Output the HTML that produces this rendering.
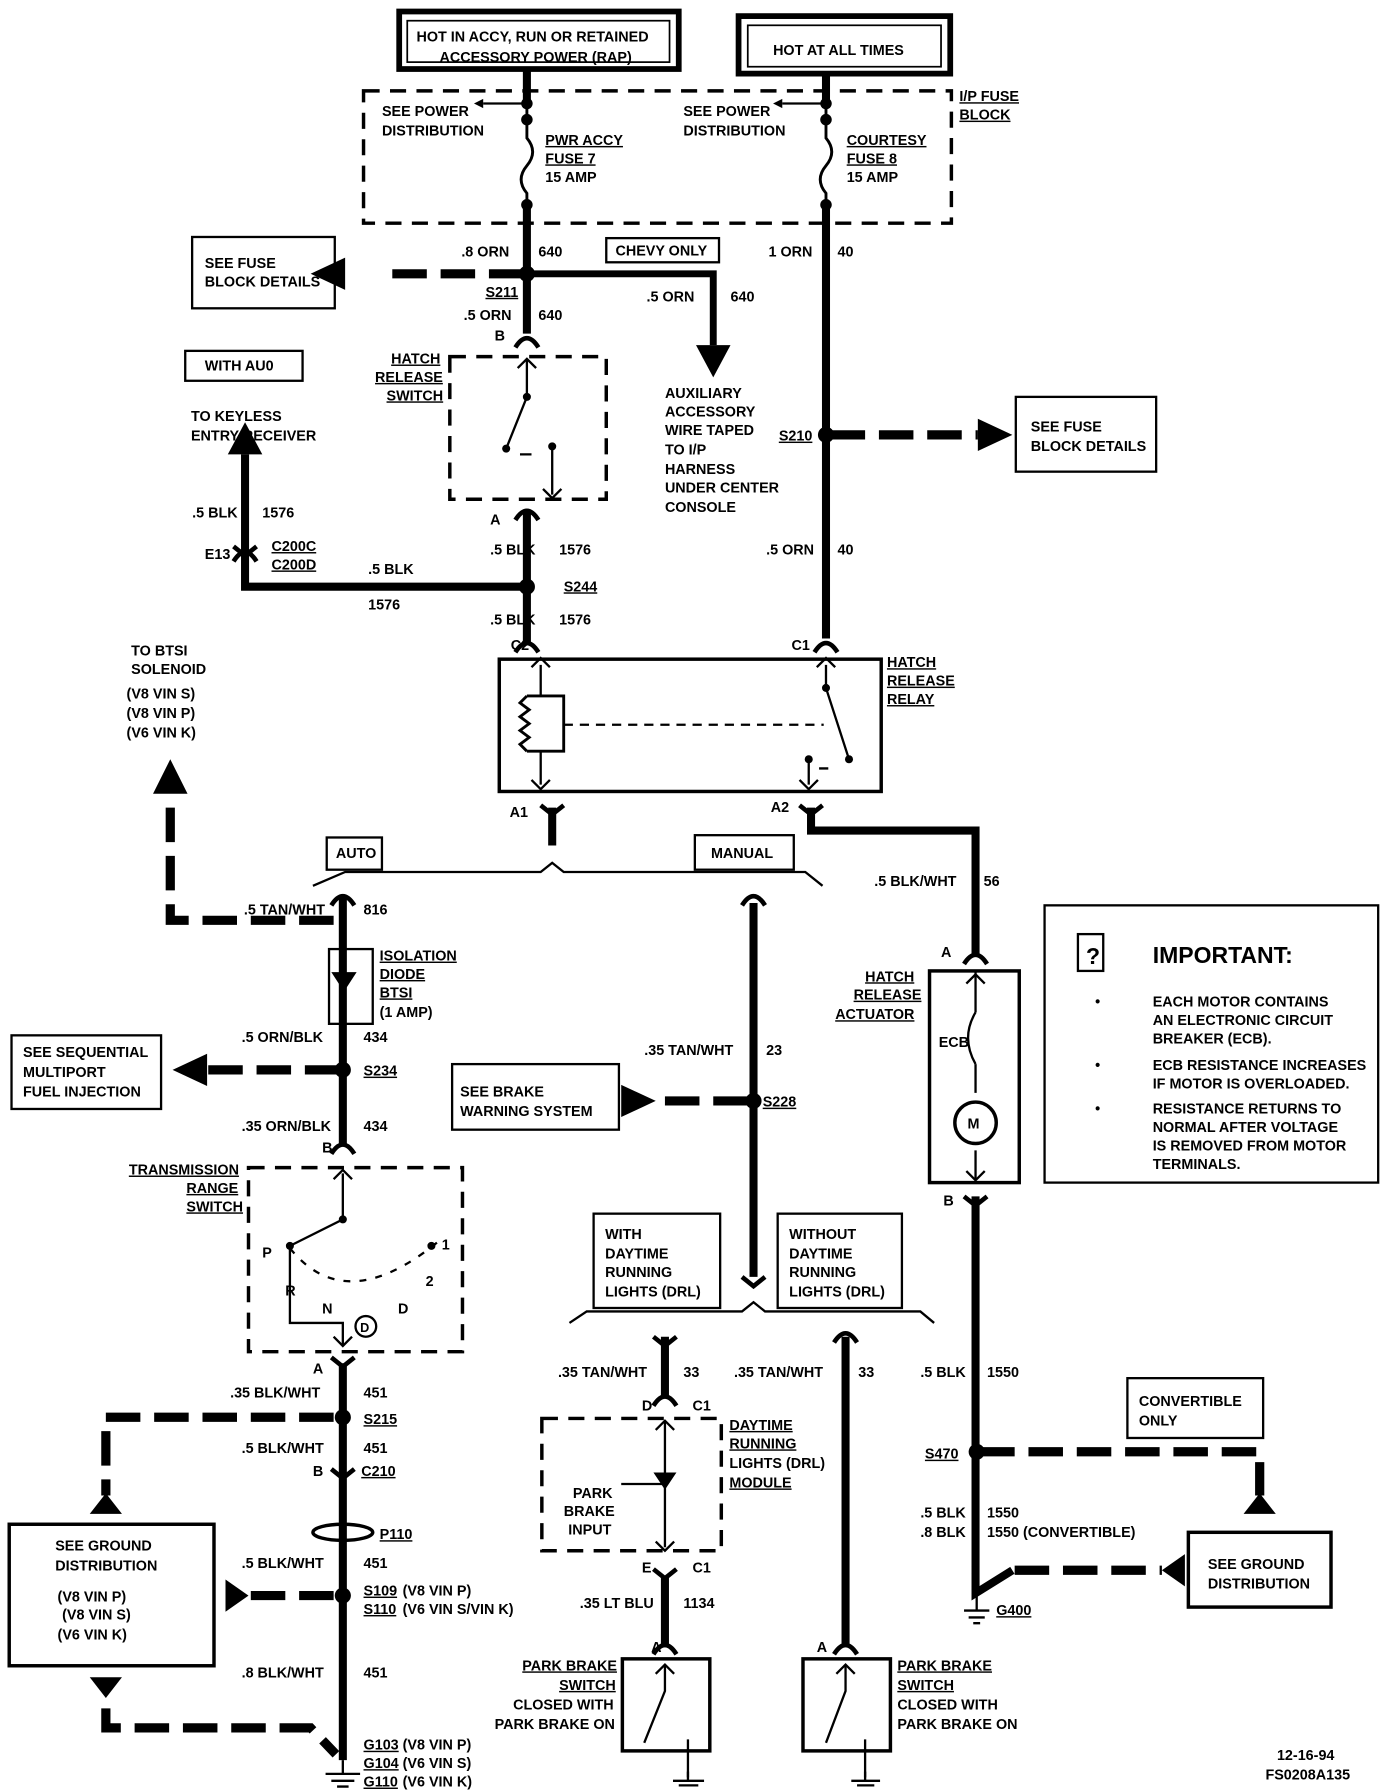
<!DOCTYPE html>
<html><head><meta charset="utf-8"><style>
html,body{margin:0;padding:0;background:#fff}
svg{display:block}
text{font-family:"Liberation Sans",sans-serif;font-weight:bold;font-size:12.5px;fill:#000}
.u{text-decoration:underline}
</style></head><body>
<svg width="1392" height="1790" viewBox="0 0 1210 1556" xmlns="http://www.w3.org/2000/svg">
<g fill="none" stroke="#000">
<rect x="347" y="10" width="243" height="50" stroke-width="5"/>
<rect x="642" y="14" width="184" height="50" stroke-width="5"/>
<rect x="354" y="18" width="228" height="36" stroke-width="1.5"/>
<rect x="650" y="22" width="168" height="36" stroke-width="1.5"/>
<rect x="316" y="79" width="511" height="115" stroke-width="3" stroke-dasharray="14,9"/>
<!-- main wires -->
<path d="M458 60V90M458 180V290M718 64V90M718 180V555" stroke-width="7"/>
<path d="M458 90V120 q10 12 0 24 q-10 12 0 24 V180 M718 90V120 q10 12 0 24 q-10 12 0 24 V180" stroke-width="2.5"/>
<path d="M458 90H420M718 90H680" stroke-width="2"/>
<path d="M455 238H330" stroke-width="8" stroke-dasharray="30,12"/>
<path d="M458 238H620V300" stroke-width="6"/>
<!-- hatch switch -->
<rect x="391" y="310" width="136" height="124" stroke-width="3" stroke-dasharray="14,9"/>
<path d="M458 312V345L440 390M480 390V430M452 395H462" stroke-width="2"/>
<path d="M458 445V560" stroke-width="7"/>
<path d="M458 510H213V395" stroke-width="7"/>
<path d="M722 378H850" stroke-width="8" stroke-dasharray="30,12"/>
<!-- relay -->
<rect x="434" y="573" width="332" height="115" stroke-width="3"/>
<path d="M470 578V605M470 653V682M718 578V598L738 660M703 660V682M712 668H720" stroke-width="2"/>
<path d="M458 605H490V653H458 M458 605 l-6 6 l8 6 l-8 6 l8 6 l-8 6 l8 6 l-8 6 l6 6" stroke-width="2.5"/>
<path d="M490 630H716" stroke-width="2" stroke-dasharray="8,6"/>
<path d="M480 702V735M705 702V722H848V830" stroke-width="7"/>
<path d="M272 770L300 758H470L480 750L490 758H700L715 770" stroke-width="2"/>
<!-- auto branch -->
<path d="M298 780V995M298 1185V1530" stroke-width="7"/>
<rect x="286" y="825" width="38" height="65" stroke-width="2"/>
<path d="M290 800H148V690" stroke-width="8" stroke-dasharray="30,12"/>
<path d="M295 930H180" stroke-width="8" stroke-dasharray="30,12"/>
<rect x="216" y="1015" width="186" height="160" stroke-width="3" stroke-dasharray="14,9"/>
<path d="M298 1020V1060L252 1083M252 1083V1150H298V1170" stroke-width="2"/>
<path d="M252 1085Q300 1145 380 1080" stroke-width="2" stroke-dasharray="6,8"/>
<circle cx="318" cy="1153" r="9" stroke-width="2"/>
<rect x="8" y="1325" width="178" height="123" stroke-width="3"/>
<path d="M290 1232H92V1300" stroke-width="8" stroke-dasharray="30,12"/>
<path d="M290 1387H215" stroke-width="8" stroke-dasharray="30,12"/>
<path d="M92 1485V1502H270L292 1525" stroke-width="8" stroke-dasharray="30,12"/>
<ellipse cx="298" cy="1332" rx="26" ry="7" stroke-width="3"/>
<!-- manual branch -->
<path d="M655 785V1110" stroke-width="7"/>
<path d="M650 957H570" stroke-width="8" stroke-dasharray="30,12"/>
<path d="M495 1150L510 1140H645L655 1132L665 1140H800L812 1150" stroke-width="2"/>
<path d="M578 1162V1215M578 1370V1430M735 1162V1430" stroke-width="7"/>
<rect x="471" y="1233" width="156" height="115" stroke-width="3" stroke-dasharray="14,9"/>
<path d="M578 1235V1345M540 1290H578" stroke-width="2"/>
<rect x="541" y="1442" width="76" height="80" stroke-width="3"/>
<rect x="698" y="1442" width="76" height="80" stroke-width="3"/>
<path d="M578 1448V1470L560 1515M598 1512V1545M735 1448V1470L718 1515M752 1512V1545" stroke-width="2"/>
<!-- actuator -->
<rect x="808" y="844" width="78" height="184" stroke-width="3"/>
<path d="M848 845V880M848 925V950M848 1000V1025" stroke-width="2"/>
<path d="M848 880Q835 902 848 925" stroke-width="2"/>
<circle cx="848" cy="976" r="18" stroke-width="3"/>
<path d="M848 1040V1385L880 1365" stroke-width="7"/>
<path d="M852 1262H1095V1300" stroke-width="8" stroke-dasharray="30,12"/>
<path d="M882 1365H1010" stroke-width="8" stroke-dasharray="30,12"/>
<rect x="1033" y="1332" width="124" height="65" stroke-width="3"/>
<rect x="980" y="1198" width="118" height="52" stroke-width="2"/>
<rect x="908" y="787" width="290" height="241" stroke-width="2"/>
<rect x="937" y="812" width="22" height="32" stroke-width="2"/>
<rect x="167" y="206" width="124" height="62" stroke-width="2"/>
<rect x="527" y="207" width="98" height="21" stroke-width="2"/>
<rect x="161" y="305" width="102" height="26" stroke-width="2"/>
<rect x="883" y="345" width="122" height="65" stroke-width="2"/>
<rect x="284" y="728" width="48" height="28" stroke-width="2"/>
<rect x="604" y="726" width="86" height="30" stroke-width="2"/>
<rect x="10" y="900" width="130" height="64" stroke-width="2"/>
<rect x="393" y="925" width="145" height="57" stroke-width="2"/>
<rect x="516" y="1055" width="110" height="82" stroke-width="2"/>
<rect x="676" y="1055" width="108" height="82" stroke-width="2"/>
<path d="M283 1542H313M288 1548H308M293 1553H303M838 1400H860M842 1406H856M846 1411H852M585 1548H612M590 1552H607M740 1548H765M745 1552H760" stroke-width="2"/>
<path d="M298 1530V1542M849 1385V1400M598 1540V1548M752 1540V1548" stroke-width="2"/>
<!-- connector forks (female, top) -->
<g stroke-width="4">
<path d="M448 302Q458 286 468 302M448 452Q458 436 468 452M448 567Q458 551 468 567M708 567Q718 551 728 567M288 787Q298 771 308 787M645 787Q655 771 665 787M288 1003Q298 987 308 1003M838 838Q848 822 858 838M568 1222Q578 1206 588 1222M725 1167Q735 1151 745 1167M568 1438Q578 1422 588 1438M725 1438Q735 1422 745 1438M203 488Q213 472 223 488"/>
<path d="M470 700l10 8l10-8M695 700l10 8l10-8M288 1180l10 8l10-8M838 1040l10 8l10-8M288 1277l10 8l10-8M568 1162l10 8l10-8M568 1364l10 8l10-8M645 1110l10 8l10-8M203 475l10 8l10-8"/>
</g>
<g stroke-width="2">
<path d="M462 580l8-8l8 8M710 580l8-8l8 8M462 678l8 8l8-8M695 678l8 8l8-8M450 320l8-8l8 8M472 425l8 8l8-8M290 1025l8-8l8 8M290 1162l8 8l8-8M840 855l8-8l8 8M840 1018l8 8l8-8M570 1243l8-8l8 8M570 1340l8 8l8-8M570 1455l8-8l8 8M727 1455l8-8l8 8"/>
</g>
</g>
<g fill="#000">
<polygon points="300,224 300,252 270,238"/>
<polygon points="605,300 635,300 620,328"/>
<polygon points="198,395 228,395 213,367"/>
<polygon points="850,364 850,392 880,378"/>
<polygon points="133,690 163,690 148,660"/>
<polygon points="180,916 180,944 150,930"/>
<polygon points="540,943 540,971 570,957"/>
<polygon points="78,1316 106,1316 92,1298"/>
<polygon points="78,1458 106,1458 92,1476"/>
<polygon points="196,1373 196,1401 216,1387"/>
<polygon points="1081,1316 1109,1316 1095,1298"/>
<polygon points="1030,1351 1030,1379 1010,1365"/>
<polygon points="420,86 420,94 412,90"/>
<polygon points="680,86 680,94 672,90"/>
<circle cx="458" cy="90" r="5"/><circle cx="458" cy="104" r="5"/><circle cx="458" cy="178" r="5"/>
<circle cx="718" cy="90" r="5"/><circle cx="718" cy="104" r="5"/><circle cx="718" cy="178" r="5"/>
<circle cx="440" cy="390" r="3.5"/><circle cx="480" cy="388" r="3.5"/><circle cx="458" cy="345" r="3.5"/>
<circle cx="718" cy="598" r="3.5"/><circle cx="738" cy="660" r="3.5"/><circle cx="703" cy="660" r="3.5"/>
<circle cx="458" cy="238" r="7"/><circle cx="718" cy="378" r="7"/>
<circle cx="458" cy="510" r="7"/><circle cx="298" cy="930" r="7"/>
<circle cx="298" cy="1232" r="7"/><circle cx="298" cy="1387" r="7"/>
<circle cx="655" cy="957" r="7"/><circle cx="849" cy="1262" r="7"/>
<circle cx="298" cy="1060" r="3.5"/><circle cx="252" cy="1083" r="3.5"/><circle cx="375" cy="1083" r="3.5"/>
<path d="M288 845H310L299 862Z"/>
<path d="M568 1280H588L578 1295Z"/>
</g>
<text x="362" y="36">HOT IN ACCY, RUN OR RETAINED</text>
<text x="382" y="54">ACCESSORY POWER (RAP)</text>
<text x="672" y="48">HOT AT ALL TIMES</text>
<text x="332" y="101">SEE POWER</text><text x="332" y="118">DISTRIBUTION</text>
<text x="594" y="101">SEE POWER</text><text x="594" y="118">DISTRIBUTION</text>
<text x="474" y="126" class="u">PWR ACCY</text><text x="474" y="142" class="u">FUSE 7</text><text x="474" y="158">15 AMP</text>
<text x="736" y="126" class="u">COURTESY</text><text x="736" y="142" class="u">FUSE 8</text><text x="736" y="158">15 AMP</text>
<text x="834" y="88" class="u">I/P FUSE</text><text x="834" y="104" class="u">BLOCK</text>
<text x="178" y="233">SEE FUSE</text><text x="178" y="249">BLOCK DETAILS</text>
<text x="401" y="223">.8 ORN</text><text x="468" y="223">640</text>
<text x="535" y="222">CHEVY ONLY</text>
<text x="668" y="223">1 ORN</text><text x="728" y="223">40</text>
<text x="422" y="258" class="u">S211</text>
<text x="403" y="278">.5 ORN</text><text x="468" y="278">640</text>
<text x="562" y="262">.5 ORN</text><text x="635" y="262">640</text>
<text x="430" y="296">B</text>
<text x="340" y="316" class="u">HATCH</text><text x="326" y="332" class="u">RELEASE</text><text x="336" y="348" class="u">SWITCH</text>
<text x="178" y="322">WITH AU0</text>
<text x="166" y="366">TO KEYLESS</text><text x="166" y="383">ENTRY RECEIVER</text>
<text x="578" y="346">AUXILIARY</text><text x="578" y="362">ACCESSORY</text><text x="578" y="378">WIRE TAPED</text><text x="578" y="395">TO I/P</text><text x="578" y="412">HARNESS</text><text x="578" y="428">UNDER CENTER</text><text x="578" y="445">CONSOLE</text>
<text x="677" y="383" class="u">S210</text>
<text x="896" y="375">SEE FUSE</text><text x="896" y="392">BLOCK DETAILS</text>
<text x="426" y="456">A</text>
<text x="167" y="450">.5 BLK</text><text x="228" y="450">1576</text>
<text x="178" y="486">E13</text><text x="236" y="479" class="u">C200C</text><text x="236" y="495" class="u">C200D</text>
<text x="320" y="499">.5 BLK</text><text x="320" y="530">1576</text>
<text x="426" y="482">.5 BLK</text><text x="486" y="482">1576</text>
<text x="666" y="482">.5 ORN</text><text x="728" y="482">40</text>
<text x="490" y="514" class="u">S244</text>
<text x="426" y="543">.5 BLK</text><text x="486" y="543">1576</text>
<text x="444" y="565">C2</text><text x="688" y="565">C1</text>
<text x="771" y="580" class="u">HATCH</text><text x="771" y="596" class="u">RELEASE</text><text x="771" y="612" class="u">RELAY</text>
<text x="114" y="570">TO BTSI</text><text x="114" y="586">SOLENOID</text>
<text x="110" y="607">(V8 VIN S)</text><text x="110" y="624">(V8 VIN P)</text><text x="110" y="641">(V6 VIN K)</text>
<text x="443" y="710">A1</text><text x="670" y="706">A2</text>
<text x="292" y="746">AUTO</text><text x="618" y="746">MANUAL</text>
<text x="760" y="770">.5 BLK/WHT</text><text x="855" y="770">56</text>
<text x="212" y="795">.5 TAN/WHT</text><text x="316" y="795">816</text>
<text x="330" y="835" class="u">ISOLATION</text><text x="330" y="851" class="u">DIODE</text><text x="330" y="867" class="u">BTSI</text><text x="330" y="884">(1 AMP)</text>
<text x="818" y="832">A</text>
<text x="752" y="853" class="u">HATCH</text><text x="742" y="869" class="u">RELEASE</text><text x="726" y="886" class="u">ACTUATOR</text>
<text x="816" y="910">ECB</text>
<text x="841" y="981">M</text>
<text x="1002" y="837" style="font-size:20px">IMPORTANT:</text>
<text x="944" y="838" style="font-size:20px">?</text>
<text x="952" y="875">•</text><text x="1002" y="875">EACH MOTOR CONTAINS</text><text x="1002" y="891">AN ELECTRONIC CIRCUIT</text><text x="1002" y="907">BREAKER (ECB).</text>
<text x="952" y="930">•</text><text x="1002" y="930">ECB RESISTANCE INCREASES</text><text x="1002" y="946">IF MOTOR IS OVERLOADED.</text>
<text x="952" y="968">•</text><text x="1002" y="968">RESISTANCE RETURNS TO</text><text x="1002" y="984">NORMAL AFTER VOLTAGE</text><text x="1002" y="1000">IS REMOVED FROM MOTOR</text><text x="1002" y="1016">TERMINALS.</text>
<text x="20" y="919">SEE SEQUENTIAL</text><text x="20" y="936">MULTIPORT</text><text x="20" y="953">FUEL INJECTION</text>
<text x="210" y="906">.5 ORN/BLK</text><text x="316" y="906">434</text>
<text x="316" y="935" class="u">S234</text>
<text x="560" y="917">.35 TAN/WHT</text><text x="666" y="917">23</text>
<text x="400" y="953">SEE BRAKE</text><text x="400" y="970">WARNING SYSTEM</text>
<text x="663" y="962" class="u">S228</text>
<text x="210" y="983">.35 ORN/BLK</text><text x="316" y="983">434</text>
<text x="280" y="1002">B</text>
<text x="112" y="1021" class="u">TRANSMISSION</text><text x="162" y="1037" class="u">RANGE</text><text x="162" y="1053" class="u">SWITCH</text>
<text x="228" y="1093">P</text><text x="384" y="1086">1</text><text x="370" y="1118">2</text><text x="248" y="1126">R</text><text x="280" y="1142">N</text><text x="346" y="1142">D</text>
<text x="313" y="1158" style="font-size:11px">D</text>
<text x="820" y="1048">B</text>
<text x="526" y="1077">WITH</text><text x="526" y="1094">DAYTIME</text><text x="526" y="1110">RUNNING</text><text x="526" y="1127">LIGHTS (DRL)</text>
<text x="686" y="1077">WITHOUT</text><text x="686" y="1094">DAYTIME</text><text x="686" y="1110">RUNNING</text><text x="686" y="1127">LIGHTS (DRL)</text>
<text x="272" y="1194">A</text>
<text x="200" y="1215">.35 BLK/WHT</text><text x="316" y="1215">451</text>
<text x="316" y="1238" class="u">S215</text>
<text x="485" y="1197">.35 TAN/WHT</text><text x="594" y="1197">33</text>
<text x="638" y="1197">.35 TAN/WHT</text><text x="746" y="1197">33</text>
<text x="800" y="1197">.5 BLK</text><text x="858" y="1197">1550</text>
<text x="990" y="1222">CONVERTIBLE</text><text x="990" y="1239">ONLY</text>
<text x="558" y="1226">D</text><text x="602" y="1226">C1</text>
<text x="634" y="1243" class="u">DAYTIME</text><text x="634" y="1259" class="u">RUNNING</text><text x="634" y="1276">LIGHTS (DRL)</text><text x="634" y="1293" class="u">MODULE</text>
<text x="210" y="1263">.5 BLK/WHT</text><text x="316" y="1263">451</text>
<text x="272" y="1283">B</text><text x="314" y="1283" class="u">C210</text>
<text x="804" y="1268" class="u">S470</text>
<text x="498" y="1302">PARK</text><text x="490" y="1318">BRAKE</text><text x="494" y="1334">INPUT</text>
<text x="800" y="1319">.5 BLK</text><text x="858" y="1319">1550</text>
<text x="800" y="1336">.8 BLK</text><text x="858" y="1336">1550 (CONVERTIBLE)</text>
<text x="330" y="1338" class="u">P110</text>
<text x="48" y="1348">SEE GROUND</text><text x="48" y="1365">DISTRIBUTION</text>
<text x="50" y="1392">(V8 VIN P)</text><text x="54" y="1408">(V8 VIN S)</text><text x="50" y="1425">(V6 VIN K)</text>
<text x="1050" y="1364">SEE GROUND</text><text x="1050" y="1381">DISTRIBUTION</text>
<text x="210" y="1363">.5 BLK/WHT</text><text x="316" y="1363">451</text>
<text x="558" y="1367">E</text><text x="602" y="1367">C1</text>
<text x="316" y="1387" class="u">S109</text><text x="350" y="1387">(V8 VIN P)</text>
<text x="316" y="1403" class="u">S110</text><text x="350" y="1403">(V6 VIN S/VIN K)</text>
<text x="866" y="1404" class="u">G400</text>
<text x="504" y="1398">.35 LT BLU</text><text x="594" y="1398">1134</text>
<text x="566" y="1436">A</text><text x="710" y="1436">A</text>
<text x="454" y="1452" class="u">PARK BRAKE</text><text x="486" y="1469" class="u">SWITCH</text><text x="446" y="1486">CLOSED WITH</text><text x="430" y="1503">PARK BRAKE ON</text>
<text x="780" y="1452" class="u">PARK BRAKE</text><text x="780" y="1469" class="u">SWITCH</text><text x="780" y="1486">CLOSED WITH</text><text x="780" y="1503">PARK BRAKE ON</text>
<text x="210" y="1458">.8 BLK/WHT</text><text x="316" y="1458">451</text>
<text x="316" y="1521" class="u">G103</text><text x="350" y="1521">(V8 VIN P)</text>
<text x="316" y="1537" class="u">G104</text><text x="350" y="1537">(V6 VIN S)</text>
<text x="316" y="1553" class="u">G110</text><text x="350" y="1553">(V6 VIN K)</text>
<text x="1110" y="1530">12-16-94</text><text x="1100" y="1547">FS0208A135</text>
</svg>
</body></html>
